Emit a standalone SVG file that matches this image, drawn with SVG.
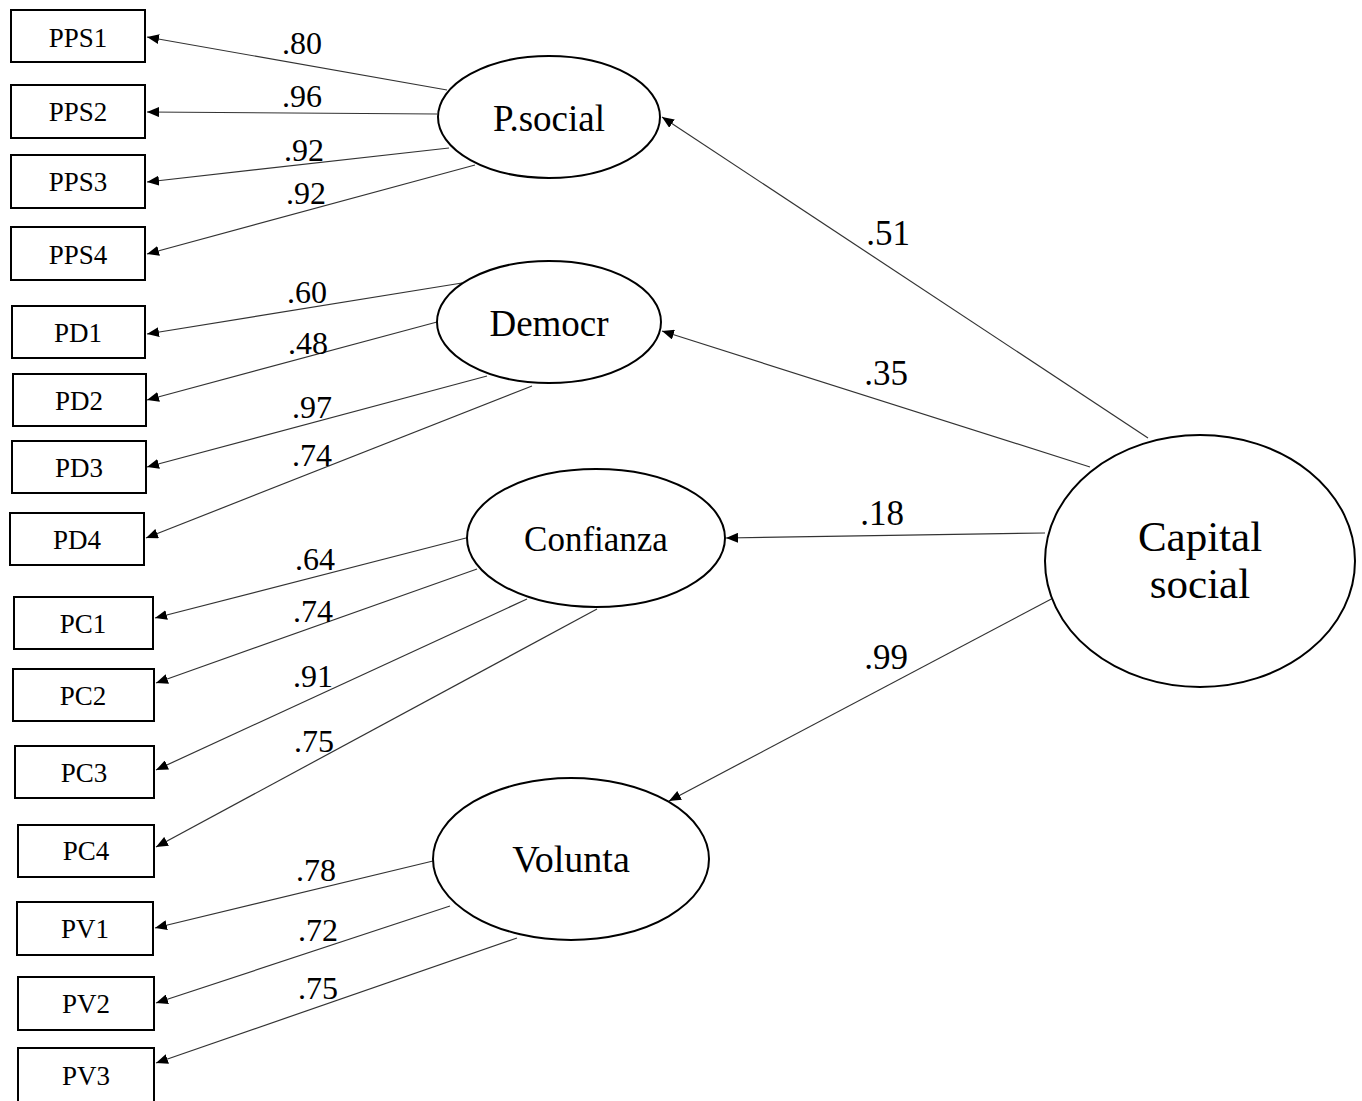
<svg xmlns="http://www.w3.org/2000/svg" width="1362" height="1101" viewBox="0 0 1362 1101">
<style>
.box{fill:#fff;stroke:#000;stroke-width:2}
.ell{fill:#fff;stroke:#000;stroke-width:2}
.lbl{font-family:"Liberation Serif","Times New Roman",serif;font-size:27px;fill:#000;text-anchor:middle}
.lat{font-family:"Liberation Serif","Times New Roman",serif;font-size:37px;fill:#000;text-anchor:middle}
.num{font-family:"Liberation Serif","Times New Roman",serif;font-size:32px;fill:#000;text-anchor:middle}
.numb{font-family:"Liberation Serif","Times New Roman",serif;font-size:35px;fill:#000;text-anchor:middle}
.edge{stroke:#333;stroke-width:1.2;fill:none;marker-end:url(#ah)}
</style>
<defs>
<marker id="ah" viewBox="0 0 12 10" refX="12" refY="5" markerWidth="12" markerHeight="10" markerUnits="userSpaceOnUse" orient="auto">
<path d="M0,0 L12,5 L0,10 z" fill="#000"/>
</marker>
</defs>
<rect width="1362" height="1101" fill="#fff"/>
<g id="connectors">
<line class="edge" x1="447" y1="90" x2="147" y2="37"/>
<line class="edge" x1="437" y1="114" x2="147" y2="112"/>
<line class="edge" x1="449" y1="148" x2="147" y2="182"/>
<line class="edge" x1="475" y1="165" x2="147" y2="254"/>
<line class="edge" x1="462" y1="283" x2="147" y2="334"/>
<line class="edge" x1="437" y1="322" x2="147" y2="400"/>
<line class="edge" x1="487" y1="376" x2="147" y2="467"/>
<line class="edge" x1="532" y1="386" x2="146" y2="538"/>
<line class="edge" x1="466" y1="538" x2="155" y2="618"/>
<line class="edge" x1="477" y1="569" x2="156" y2="683"/>
<line class="edge" x1="527" y1="599" x2="156" y2="770"/>
<line class="edge" x1="597" y1="609" x2="156" y2="847"/>
<line class="edge" x1="433" y1="861" x2="155" y2="928"/>
<line class="edge" x1="450" y1="906" x2="156" y2="1003"/>
<line class="edge" x1="517" y1="938" x2="156" y2="1063"/>
<line class="edge" x1="1148" y1="438" x2="662" y2="117"/>
<line class="edge" x1="1090" y1="467" x2="662" y2="331"/>
<line class="edge" x1="1045" y1="533" x2="726" y2="538"/>
<line class="edge" x1="1057" y1="596" x2="669" y2="801"/>
<text class="num" x="302" y="54">.80</text>
<text class="num" x="302" y="107">.96</text>
<text class="num" x="304" y="161">.92</text>
<text class="num" x="306" y="204">.92</text>
<text class="num" x="307" y="303">.60</text>
<text class="num" x="308" y="354">.48</text>
<text class="num" x="312" y="418">.97</text>
<text class="num" x="312" y="466">.74</text>
<text class="num" x="315" y="570">.64</text>
<text class="num" x="313" y="622">.74</text>
<text class="num" x="313" y="687">.91</text>
<text class="num" x="314" y="752">.75</text>
<text class="num" x="316" y="881">.78</text>
<text class="num" x="318" y="941">.72</text>
<text class="num" x="318" y="999">.75</text>
<text class="numb" x="888" y="245">.51</text>
<text class="numb" x="886" y="385">.35</text>
<text class="numb" x="882" y="525">.18</text>
<text class="numb" x="886" y="669">.99</text>
</g>
<g id="PPS1"><rect class="box" x="11" y="10" width="134" height="52"/><text class="lbl" x="78" y="47">PPS1</text></g>
<g id="PPS2"><rect class="box" x="11" y="85" width="134" height="53"/><text class="lbl" x="78" y="121">PPS2</text></g>
<g id="PPS3"><rect class="box" x="11" y="155" width="134" height="53"/><text class="lbl" x="78" y="191">PPS3</text></g>
<g id="PPS4"><rect class="box" x="11" y="227" width="134" height="53"/><text class="lbl" x="78" y="264">PPS4</text></g>
<g id="PD1"><rect class="box" x="12" y="306" width="133" height="52"/><text class="lbl" x="78" y="342">PD1</text></g>
<g id="PD2"><rect class="box" x="13" y="374" width="133" height="52"/><text class="lbl" x="79" y="410">PD2</text></g>
<g id="PD3"><rect class="box" x="12" y="441" width="134" height="52"/><text class="lbl" x="79" y="477">PD3</text></g>
<g id="PD4"><rect class="box" x="10" y="513" width="134" height="52"/><text class="lbl" x="77" y="549">PD4</text></g>
<g id="PC1"><rect class="box" x="14" y="597" width="139" height="52"/><text class="lbl" x="83" y="633">PC1</text></g>
<g id="PC2"><rect class="box" x="13" y="669" width="141" height="52"/><text class="lbl" x="83" y="705">PC2</text></g>
<g id="PC3"><rect class="box" x="15" y="746" width="139" height="52"/><text class="lbl" x="84" y="782">PC3</text></g>
<g id="PC4"><rect class="box" x="18" y="825" width="136" height="52"/><text class="lbl" x="86" y="860">PC4</text></g>
<g id="PV1"><rect class="box" x="17" y="902" width="136" height="53"/><text class="lbl" x="85" y="938">PV1</text></g>
<g id="PV2"><rect class="box" x="18" y="977" width="136" height="53"/><text class="lbl" x="86" y="1013">PV2</text></g>
<g id="PV3"><rect class="box" x="18" y="1048" width="136" height="56"/><text class="lbl" x="86" y="1085">PV3</text></g>
<g id="Psocial"><ellipse class="ell" cx="549" cy="117" rx="111" ry="61"/><text class="lat" x="549" y="131">P.social</text></g>
<g id="Democr"><ellipse class="ell" cx="549" cy="322" rx="112" ry="61"/><text class="lat" x="549" y="336">Democr</text></g>
<g id="Confianza"><ellipse class="ell" cx="596" cy="538" rx="129" ry="69"/><text class="lat" x="596" y="551" style="font-size:35px">Confianza</text></g>
<g id="Volunta"><ellipse class="ell" cx="571" cy="859" rx="138" ry="81"/><text class="lat" x="571" y="872" style="font-size:38px">Volunta</text></g>
<g id="Capital"><ellipse class="ell" cx="1200" cy="561" rx="155" ry="126"/><text class="lat" x="1200" y="551" style="font-size:43px">Capital</text><text class="lat" x="1200" y="598" style="font-size:43px">social</text></g>
</svg>
